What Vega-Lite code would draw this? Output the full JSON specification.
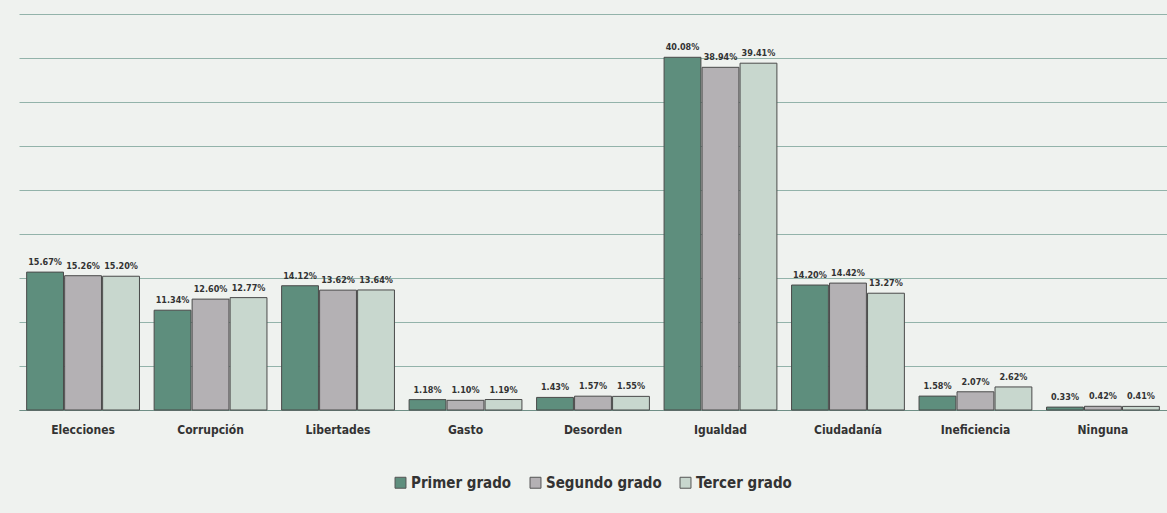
{
  "$schema": "https://vega.github.io/schema/vega-lite/v6.json",
  "width": 1148,
  "height": 396,
  "autosize": {"type": "none"},
  "padding": {"left": 19, "top": 14, "right": 0, "bottom": 103},
  "background": "#eff2ef",
  "config": {
    "view": {"stroke": null},
    "font": "DejaVu Sans Condensed"
  },
  "data": {
    "values": [
      {"cat": "Elecciones", "grado": "Primer grado", "v": 15.67},
      {"cat": "Elecciones", "grado": "Segundo grado", "v": 15.26},
      {"cat": "Elecciones", "grado": "Tercer grado", "v": 15.20},
      {"cat": "Corrupción", "grado": "Primer grado", "v": 11.34},
      {"cat": "Corrupción", "grado": "Segundo grado", "v": 12.60},
      {"cat": "Corrupción", "grado": "Tercer grado", "v": 12.77},
      {"cat": "Libertades", "grado": "Primer grado", "v": 14.12},
      {"cat": "Libertades", "grado": "Segundo grado", "v": 13.62},
      {"cat": "Libertades", "grado": "Tercer grado", "v": 13.64},
      {"cat": "Gasto", "grado": "Primer grado", "v": 1.18},
      {"cat": "Gasto", "grado": "Segundo grado", "v": 1.10},
      {"cat": "Gasto", "grado": "Tercer grado", "v": 1.19},
      {"cat": "Desorden", "grado": "Primer grado", "v": 1.43},
      {"cat": "Desorden", "grado": "Segundo grado", "v": 1.57},
      {"cat": "Desorden", "grado": "Tercer grado", "v": 1.55},
      {"cat": "Igualdad", "grado": "Primer grado", "v": 40.08},
      {"cat": "Igualdad", "grado": "Segundo grado", "v": 38.94},
      {"cat": "Igualdad", "grado": "Tercer grado", "v": 39.41},
      {"cat": "Ciudadanía", "grado": "Primer grado", "v": 14.20},
      {"cat": "Ciudadanía", "grado": "Segundo grado", "v": 14.42},
      {"cat": "Ciudadanía", "grado": "Tercer grado", "v": 13.27},
      {"cat": "Ineficiencia", "grado": "Primer grado", "v": 1.58},
      {"cat": "Ineficiencia", "grado": "Segundo grado", "v": 2.07},
      {"cat": "Ineficiencia", "grado": "Tercer grado", "v": 2.62},
      {"cat": "Ninguna", "grado": "Primer grado", "v": 0.33},
      {"cat": "Ninguna", "grado": "Segundo grado", "v": 0.42},
      {"cat": "Ninguna", "grado": "Tercer grado", "v": 0.41}
    ]
  },
  "encoding": {
    "x": {
      "field": "cat", "type": "nominal", "sort": null, "title": null,
      "scale": {"paddingInner": 0.115, "paddingOuter": 0.06},
      "axis": {"labelAngle": 0, "ticks": false, "domain": true, "domainColor": "#6f8f86", "labelFontSize": 12, "labelColor": "#333333", "labelPadding": 14, "labelFontWeight": "bold"}
    },
    "xOffset": {"field": "grado", "type": "nominal", "sort": ["Primer grado", "Segundo grado", "Tercer grado"], "scale": {"paddingInner": 0.03}},
    "y": {
      "field": "v", "type": "quantitative", "title": null,
      "scale": {"domain": [0, 45], "nice": false},
      "axis": {"values": [0, 5, 10, 15, 20, 25, 30, 35, 40, 45], "labels": false, "ticks": false, "domain": false, "gridColor": "#93b3aa", "gridWidth": 1.2, "gridOpacity": 1}
    }
  },
  "layer": [
    {
      "mark": {"type": "bar", "stroke": "#4a4a4a", "strokeWidth": 1},
      "encoding": {
        "color": {
          "field": "grado", "type": "nominal",
          "scale": {"domain": ["Primer grado", "Segundo grado", "Tercer grado"], "range": ["#5e8e7d", "#b4b1b4", "#c8d7ce"]},
          "legend": {
            "title": null, "orient": "none", "direction": "horizontal",
            "legendX": 374, "legendY": 461,
            "symbolType": "square", "symbolSize": 120, "symbolStrokeColor": "#555555", "symbolStrokeWidth": 1,
            "labelFontSize": 15, "labelFontWeight": "bold", "labelColor": "#333333",
            "columnPadding": 16, "symbolOffset": 0, "labelOffset": 3
          }
        }
      }
    },
    {
      "transform": [{"calculate": "format(datum.v, '.2f') + '%'", "as": "lbl"}],
      "mark": {"type": "text", "baseline": "bottom", "dy": -5, "fontSize": 9, "fontWeight": "bold", "color": "#333333"},
      "encoding": {
        "text": {"field": "lbl", "type": "nominal"}
      }
    }
  ]
}
